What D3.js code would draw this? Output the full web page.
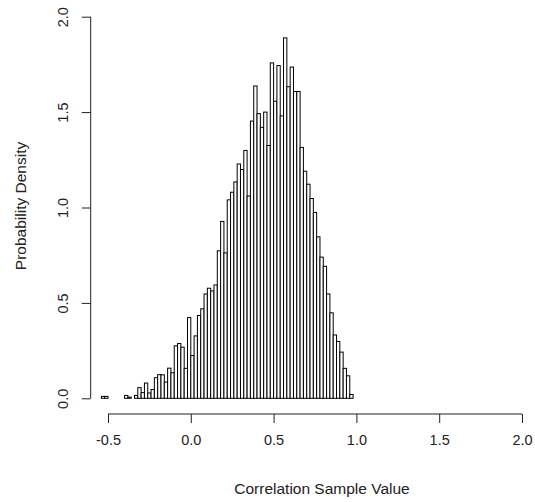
<!DOCTYPE html>
<meta charset="utf-8">
<style>
  body { margin: 0; background: #fff; }
  svg text { font-family: "Liberation Sans", Arial, sans-serif; fill: #222; }
  .bar { fill: #fff; stroke: #000; stroke-width: 1; }
  .axis path, .axis line { stroke: #222; }
</style>
<svg width="535" height="502"></svg>
<script src="https://cdn.jsdelivr.net/npm/d3@7/dist/d3.min.js"></script>
<script>
// histogram of correlation samples, bins of 0.02 starting at -0.54
var binStart = -0.54,
    binWidth = 0.02;

var density = [
  0.010, 0.010, 0, 0, 0, 0, 0, 0.015, 0.006, 0,
  0.015, 0.056, 0.030, 0.080, 0.028, 0.046, 0.108, 0.124, 0.123, 0.085,
  0.158, 0.134, 0.275, 0.287, 0.268, 0.157, 0.423, 0.224, 0.327, 0.434,
  0.469, 0.547, 0.577, 0.563, 0.594, 0.773, 0.927, 0.762, 1.040, 1.080,
  1.134, 1.228, 1.199, 1.299, 1.060, 1.453, 1.637, 1.492, 1.420, 1.500,
  1.325, 1.758, 1.557, 1.744, 1.480, 1.889, 1.633, 1.736, 1.608, 1.608,
  1.315, 1.190, 1.122, 1.047, 0.974, 0.846, 0.740, 0.692, 0.547, 0.448,
  0.332, 0.298, 0.242, 0.157, 0.118, 0.020
];

var xTicks = [-0.5, 0.0, 0.5, 1.0, 1.5, 2.0],
    xTickLabels = ["-0.5", "0.0", "0.5", "1.0", "1.5", "2.0"],
    yTicks = [0, 0.5, 1.0, 1.5, 2.0],
    yTickLabels = ["0.0", "0.5", "1.0", "1.5", "2.0"];

var svg = d3.select("svg");

var x = d3.scaleLinear().domain([-0.5, 2.0]).range([108, 522]),
    y = d3.scaleLinear().domain([0, 2.0]).range([398.3, 16.7]);

var bins = density.map(function(d, i) {
  return { x0: binStart + i * binWidth, x1: binStart + (i + 1) * binWidth, d: d };
});

svg.append("g").selectAll("rect")
  .data(bins)
  .enter().append("rect")
    .attr("class", "bar")
    .attr("x", function(b) { return x(b.x0); })
    .attr("width", function(b) { return x(b.x1) - x(b.x0); })
    .attr("y", function(b) { return y(b.d); })
    .attr("height", function(b) { return y(0) - y(b.d); });

// x axis, sits at the bottom of the plot region
var xAxis = svg.append("g")
    .attr("class", "axis")
    .attr("transform", "translate(0,414)")
    .call(d3.axisBottom(x)
      .tickValues(xTicks)
      .tickSize(9)
      .tickSizeOuter(0)
      .tickFormat(function(d, i) { return xTickLabels[i]; }));
xAxis.select(".domain").attr("d", "M" + x(-0.5) + ",0H" + x(2.0));
xAxis.selectAll("text")
    .attr("y", 31)
    .attr("dy", 0)
    .style("font-size", "14.5px");

// y axis, labels turned like R does
var yAxis = svg.append("g")
    .attr("class", "axis")
    .attr("transform", "translate(90.7,0)")
    .call(d3.axisLeft(y)
      .tickValues(yTicks)
      .tickSize(9)
      .tickSizeOuter(0)
      .tickFormat(function(d, i) { return yTickLabels[i]; }));
yAxis.select(".domain").attr("d", "M0," + y(0) + "V" + y(2.0));
yAxis.selectAll("text")
    .attr("transform", "rotate(-90)")
    .attr("x", 0)
    .attr("y", -23)
    .attr("dy", 0)
    .attr("text-anchor", "middle")
    .style("font-size", "14.5px");

svg.append("text")
    .attr("x", 322)
    .attr("y", 494)
    .attr("text-anchor", "middle")
    .style("font-size", "15.5px")
    .text("Correlation Sample Value");

svg.append("text")
    .attr("transform", "translate(26,206) rotate(-90)")
    .attr("text-anchor", "middle")
    .style("font-size", "15.5px")
    .text("Probability Density");
</script>
